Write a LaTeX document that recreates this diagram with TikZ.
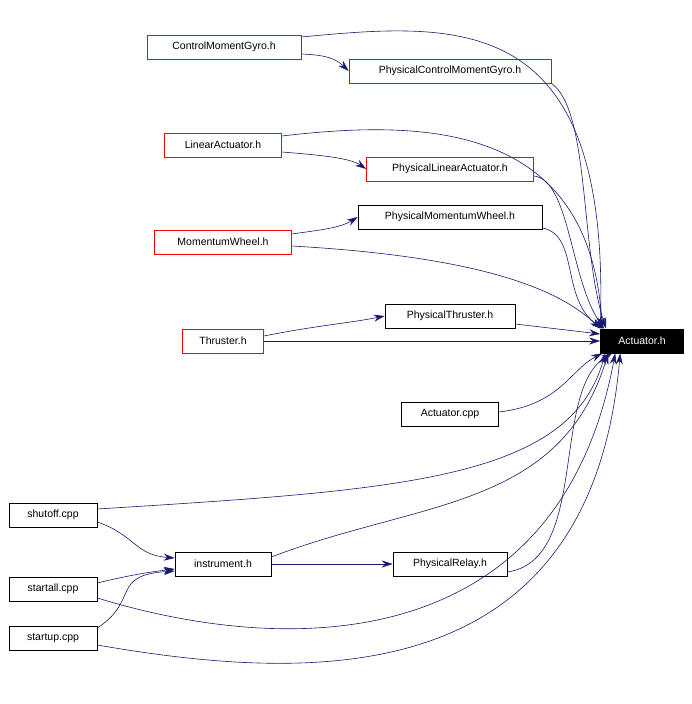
\documentclass[tikz,border=0pt]{standalone}
\usepackage{fontspec}
\setmainfont{Liberation Sans}
\usetikzlibrary{arrows.meta}
\definecolor{edgec}{RGB}{25,25,112}
\definecolor{boxred}{RGB}{255,0,0}
\begin{document}
\begin{tikzpicture}[x=1pt,y=-1pt,
  box/.style={draw=black,rectangle,inner sep=0pt,minimum height=24pt,font=\fontsize{10.5}{12}\selectfont,line width=0.6pt},
  rbox/.style={box,draw=boxred},
  e/.style={draw=edgec,line width=0.6pt,-{Stealth[length=11pt,width=7pt]}}]
\useasboundingbox (0,0) rectangle (692,704);
\node[rbox,minimum width=154pt] (cmg) at (224,47) {ControlMomentGyro.h};
\node[rbox,minimum width=202pt] (pcmg) at (450,71) {PhysicalControlMomentGyro.h};
\node[rbox,minimum width=117pt] (la) at (223,145) {LinearActuator.h};
\node[rbox,minimum width=167pt] (pla) at (450,169) {PhysicalLinearActuator.h};
\node[box,minimum width=184pt] (pmw) at (450,217) {PhysicalMomentumWheel.h};
\node[rbox,minimum width=137pt] (mw) at (223,242) {MomentumWheel.h};
\node[box,minimum width=130pt] (pt) at (450,316) {PhysicalThruster.h};
\node[rbox,minimum width=81pt] (th) at (223,341) {Thruster.h};
\node[box,fill=black,text=white,minimum width=83pt] (act) at (642,341) {Actuator.h};
\node[box,minimum width=97pt] (acpp) at (450,414) {Actuator.cpp};
\node[box,minimum width=88pt] (so) at (53,515) {shutoff.cpp};
\node[box,minimum width=96pt] (ins) at (223,564) {instrument.h};
\node[box,minimum width=114pt] (pr) at (450,564) {PhysicalRelay.h};
\node[box,minimum width=88pt] (sa) at (53,589) {startall.cpp};
\node[box,minimum width=88pt] (su) at (53,638) {startup.cpp};

\draw[e] (cmg.east |- 0,37) .. controls (460,22) and (610,10) .. (act.north west);
\draw[e] (cmg.east |- 0,54) .. controls (325,55) and (335,58) .. (pcmg.west);
\draw[e] (pcmg.south east) .. controls (590,110) and (580,250) .. ([xshift=6pt]act.north west);
\draw[e] (la.east |- 0,136) .. controls (420,120) and (590,120) .. ([xshift=2pt]act.north west);
\draw[e] (la.east |- 0,152) .. controls (320,155) and (350,158) .. (pla.west);
\draw[e] (pla.east |- 0,176) .. controls (570,180) and (570,280) .. ([xshift=4pt]act.north west);
\draw[e] (mw.east |- 0,234) .. controls (320,230) and (340,228) .. (pmw.west);
\draw[e] (pmw.east |- 0,228) .. controls (580,235) and (560,300) .. ([xshift=3pt]act.north west);
\draw[e] (mw.east |- 0,246) .. controls (450,255) and (550,280) .. (act.north west);
\draw[e] (th.east |- 0,336) .. controls (320,325) and (350,323) .. (pt.west);
\draw[e] (pt.east |- 0,324) -- (act.west |- 0,334);
\draw[e] (th.east) -- (act.west);
\draw[e] (acpp.east |- 0,412) .. controls (560,405) and (570,370) .. ([xshift=2pt]act.south west);
\draw[e] (so.east |- 0,509) .. controls (400,490) and (570,480) .. ([xshift=5pt]act.south west);
\draw[e] (so.east |- 0,522) .. controls (135,535) and (135,555) .. (ins.west |- 0,558);
\draw[e] (ins.east |- 0,557) .. controls (420,500) and (560,510) .. ([xshift=8pt]act.south west);
\draw[e] (ins.east) -- (pr.west);
\draw[e] (pr.east |- 0,572) .. controls (590,560) and (550,390) .. ([xshift=12pt]act.south west);
\draw[e] (sa.east |- 0,583) .. controls (130,575) and (150,572) .. (ins.west |- 0,569);
\draw[e] (sa.east |- 0,598) .. controls (300,660) and (560,650) .. ([xshift=15pt]act.south west);
\draw[e] (su.east |- 0,628) .. controls (140,600) and (110,575) .. (ins.west |- 0,571);
\draw[e] (su.east |- 0,645) .. controls (300,680) and (590,700) .. ([xshift=20pt]act.south west);
\end{tikzpicture}
\end{document}
